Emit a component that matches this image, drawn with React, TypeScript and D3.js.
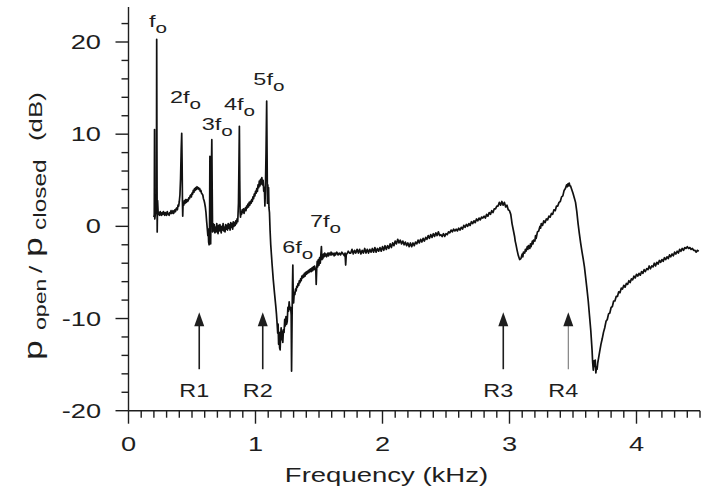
import React from "react";
import * as d3 from "d3";

// ---- data (kHz, dB) ----
const segHarmonics: [number, number][] = [
  [0.200,1.0],[0.203,1.3],[0.205,10.5],[0.207,0.8],[0.212,1.4],[0.217,1.8],[0.220,3.0],[0.222,20.3],[0.224,8.0],[0.226,-0.6],[0.229,2.8],[0.233,1.6],[0.237,1.3],
  [0.24,1.5],[0.245,1.2],[0.25,1.6],[0.255,1.3],[0.26,1.2],[0.265,1.5],[0.27,1.3],[0.275,1.6],[0.28,1.4],[0.285,1.2],[0.29,1.5],[0.295,1.3],[0.30,1.2],[0.305,1.6],
  [0.31,1.4],[0.315,1.3],[0.32,1.2],[0.325,1.5],[0.33,1.4],[0.335,1.7],[0.34,1.4],[0.345,1.5],[0.35,1.7],[0.355,1.4],[0.36,1.6],[0.365,1.8],[0.37,1.6],[0.375,1.9],
  [0.38,2.0],[0.385,1.8],[0.39,2.3],[0.395,2.2],[0.40,2.7],[0.405,3.4],[0.41,5.2],[0.415,8.3],[0.419,10.1],[0.422,7.0],[0.425,2.5],[0.427,1.1],[0.43,2.6],[0.435,2.3],
  [0.44,2.8],[0.445,2.5],[0.45,2.9],[0.455,2.6],[0.46,2.9],[0.465,2.7],[0.47,2.8],[0.475,3.1],[0.48,3.0],[0.485,3.3],[0.49,3.4],[0.495,3.2],[0.50,3.6],[0.505,3.5],
  [0.51,3.9],[0.515,3.7],[0.52,4.1],[0.525,3.9],[0.53,4.2],[0.535,4.0],[0.54,4.3],[0.545,4.1],[0.55,4.2],[0.555,4.0],[0.56,4.1],[0.565,3.8],[0.57,3.9],[0.575,3.6],
  [0.58,3.5],[0.585,3.4],[0.59,3.0],[0.595,2.8],[0.60,2.5],[0.605,2.1],[0.61,1.5],[0.615,0.6],[0.62,-0.2],[0.625,-1.0],[0.628,-0.3],[0.631,-1.7],[0.635,-2.0],
  [0.638,-0.5],[0.641,7.6],[0.644,2.0],[0.647,-1.9],[0.651,4.5],[0.656,9.4],[0.659,4.0],[0.662,-0.6],[0.666,0.3],[0.67,-0.5],[0.675,0.2],[0.68,-0.7],[0.685,-0.1],
  [0.69,-0.6],[0.695,0.3],[0.70,-0.4],[0.705,-0.8],[0.71,0.1],[0.715,-0.5],[0.72,0.2],[0.725,-0.3],[0.73,-0.7],[0.735,0.0],[0.74,-0.4],[0.745,0.3],[0.75,-0.5],
  [0.755,-0.1],[0.76,-0.6],[0.765,0.2],[0.77,-0.3],[0.775,0.1],[0.78,-0.4],[0.785,0.3],[0.79,-0.2],[0.795,0.2],[0.80,-0.4],[0.805,0.4],[0.81,-0.1],[0.815,0.3],
  [0.82,-0.3],[0.825,0.5],[0.83,0.0],[0.835,0.4],[0.84,0.1],[0.845,0.6],[0.85,0.3],[0.855,0.8],[0.86,0.5],[0.866,2.5],[0.870,7.0],[0.873,10.85],[0.876,5.0],
  [0.879,1.5],[0.882,1.0],[0.885,1.6],[0.89,1.3],[0.895,1.8],[0.90,1.5],[0.905,1.9],[0.91,1.4],[0.915,1.8],[0.92,2.0],[0.925,1.7],[0.93,2.2],[0.935,2.0],[0.94,2.4],
  [0.945,2.1],[0.95,2.6],[0.955,2.3],[0.96,2.7],[0.965,2.5],[0.97,2.9],[0.975,2.7],[0.98,3.2],[0.985,3.0],[0.99,3.5],[0.995,3.3],[1.00,3.8],[1.005,3.6],[1.01,4.1],
  [1.015,3.8],[1.02,4.5],[1.025,4.2],[1.03,4.9],[1.035,4.4],[1.04,5.1],[1.045,4.6],[1.05,5.3],[1.055,4.5],[1.06,5.0],[1.065,3.8],[1.07,4.2],[1.074,2.2],[1.078,4.0],
  [1.083,8.0],[1.088,13.6],[1.091,8.0],[1.094,2.5],[1.097,4.5],[1.10,3.0],[1.103,4.2],[1.106,2.0],[1.11,1.5],
];

const segDip: [number, number][] = [
  [1.115,-0.5],[1.12,-2.0],[1.13,-4.0],[1.14,-5.8],[1.15,-7.3],[1.16,-8.7],[1.165,-9.5],[1.17,-10.5],[1.175,-11.6],[1.178,-10.6],[1.182,-12.8],[1.186,-11.5],
  [1.19,-13.2],[1.194,-13.4],[1.198,-11.8],[1.202,-11.0],[1.206,-12.3],[1.21,-11.4],[1.215,-12.6],[1.22,-11.2],[1.225,-11.5],[1.23,-10.1],[1.235,-10.8],[1.24,-9.8],
  [1.245,-10.6],[1.25,-10.3],[1.255,-8.8],[1.26,-9.2],[1.265,-8.2],[1.27,-9.0],[1.277,-8.8],[1.281,-9.6],[1.284,-15.7],[1.288,-10.0],[1.291,-6.5],[1.294,-4.2],
  [1.297,-7.5],[1.30,-8.3],[1.305,-7.2],[1.31,-7.4],[1.315,-6.8],[1.32,-7.0],[1.325,-6.5],[1.33,-6.6],[1.335,-6.2],[1.34,-6.4],[1.345,-5.9],[1.35,-6.1],[1.355,-5.7],
  [1.36,-5.9],[1.365,-5.4],[1.37,-5.6],[1.375,-5.3],[1.38,-5.5],[1.385,-5.1],[1.39,-5.4],[1.395,-5.0],[1.40,-5.2],[1.405,-4.9],[1.41,-5.1],[1.415,-4.8],[1.42,-5.0],
  [1.425,-4.7],[1.43,-4.9],[1.435,-4.6],[1.44,-4.9],[1.445,-4.5],[1.45,-4.8],[1.455,-4.4],[1.46,-4.7],[1.465,-4.3],[1.47,-4.6],[1.475,-4.8],[1.478,-6.3],[1.482,-4.6],
  [1.486,-3.8],[1.49,-4.4],[1.495,-3.6],[1.50,-4.2],[1.505,-3.4],[1.51,-4.0],[1.515,-3.0],[1.519,-2.2],[1.523,-3.6],[1.527,-3.2],[1.53,-3.5],[1.535,-3.0],[1.54,-3.3],
  [1.545,-2.9],[1.55,-3.2],[1.555,-3.0],[1.56,-3.3],[1.57,-2.9],[1.575,-3.2],[1.58,-2.9],[1.59,-3.1],[1.595,-2.8],[1.60,-3.1],[1.61,-2.9],[1.62,-3.2],[1.625,-2.9],
  [1.63,-3.1],[1.64,-2.8],[1.65,-3.1],[1.66,-2.9],[1.67,-3.1],[1.68,-2.8],[1.69,-3.0],[1.70,-3.2],[1.705,-2.9],[1.71,-4.2],[1.715,-3.0],[1.72,-3.0],[1.73,-2.7],[1.74,-2.9],
];

const segRise: [number, number][] = [
  [1.75,-2.9],[1.76,-2.5],[1.77,-3.0],[1.78,-2.6],[1.79,-2.9],[1.80,-2.5],[1.81,-2.9],[1.82,-2.5],[1.83,-3.0],[1.84,-2.6],[1.85,-2.9],[1.86,-2.4],[1.87,-2.9],
  [1.88,-2.5],[1.89,-2.9],[1.90,-2.5],[1.91,-2.8],[1.92,-2.4],[1.93,-2.8],[1.94,-2.3],[1.95,-2.8],[1.96,-2.4],[1.97,-2.7],[1.98,-2.3],[1.99,-2.7],[2.00,-2.2],
  [2.01,-2.6],[2.02,-2.1],[2.03,-2.5],[2.04,-2.1],[2.05,-2.4],[2.06,-1.9],[2.07,-2.3],[2.08,-1.8],[2.09,-2.1],[2.10,-1.6],[2.11,-1.9],[2.12,-1.4],[2.13,-1.8],
  [2.14,-1.5],[2.15,-1.9],[2.16,-1.6],[2.17,-2.0],[2.18,-1.7],[2.19,-2.1],[2.20,-1.8],[2.21,-2.2],[2.22,-1.8],[2.23,-2.2],[2.24,-1.8],[2.25,-2.1],[2.26,-1.7],
  [2.27,-1.9],[2.28,-1.5],[2.29,-1.8],[2.30,-1.4],[2.31,-1.7],[2.32,-1.3],[2.33,-1.6],[2.34,-1.2],[2.35,-1.4],[2.36,-1.0],[2.37,-1.3],[2.38,-0.9],[2.39,-1.2],
  [2.40,-0.8],[2.41,-1.1],[2.42,-0.7],[2.43,-1.0],[2.44,-0.6],[2.45,-1.0],[2.46,-0.9],[2.47,-1.1],[2.48,-0.8],[2.49,-1.1],[2.50,-0.8],[2.51,-0.9],[2.52,-0.6],
  [2.53,-0.7],[2.54,-0.4],[2.55,-0.6],[2.56,-0.3],[2.57,-0.5],[2.58,-0.3],[2.59,-0.5],[2.60,-0.2],[2.61,-0.4],[2.62,-0.1],[2.63,-0.3],[2.64,0.1],[2.65,-0.1],
  [2.66,0.2],[2.67,0.0],[2.68,0.3],[2.69,0.1],[2.70,0.5],[2.71,0.3],[2.72,0.6],[2.73,0.4],[2.74,0.8],[2.75,0.6],[2.76,0.9],[2.77,0.7],[2.78,1.0],[2.79,0.9],
  [2.80,1.1],[2.81,0.9],[2.82,1.3],[2.83,1.1],[2.84,1.5],[2.85,1.3],[2.86,1.7],[2.87,1.5],[2.88,1.9],[2.89,1.9],[2.90,2.2],[2.91,2.2],[2.92,2.6],[2.93,2.3],
  [2.94,2.7],[2.95,2.3],[2.96,2.6],[2.97,2.1],[2.98,2.3],[2.99,1.8],[3.00,1.7],[3.01,1.3],[3.015,0.8],[3.02,0.3],[3.03,-0.4],[3.04,-1.1],[3.045,-1.6],[3.05,-1.9],
  [3.06,-2.6],[3.07,-3.2],[3.08,-3.6],[3.09,-3.5],[3.10,-3.0],[3.105,-3.3],[3.11,-2.8],[3.12,-2.9],[3.125,-2.5],[3.13,-2.7],[3.14,-2.2],[3.145,-2.5],[3.15,-2.1],
  [3.16,-2.4],[3.165,-1.9],[3.17,-2.2],[3.18,-1.6],[3.185,-1.9],[3.19,-1.5],[3.20,-1.6],[3.205,-1.0],[3.21,-1.3],[3.22,-0.6],[3.23,-0.5],[3.24,0.0],[3.245,-0.2],
  [3.25,0.3],[3.26,0.1],[3.27,0.6],[3.28,0.4],[3.29,0.8],[3.30,0.7],[3.31,1.1],[3.32,1.0],[3.33,1.4],[3.34,1.3],[3.35,1.8],[3.36,1.7],[3.37,2.2],[3.38,2.2],
  [3.39,2.6],[3.40,2.7],[3.41,3.2],[3.42,3.3],[3.43,3.9],[3.44,4.1],[3.45,4.5],[3.455,4.3],[3.46,4.6],[3.465,4.4],[3.47,4.7],[3.475,4.4],[3.48,4.4],[3.49,4.0],
  [3.50,3.6],[3.51,3.1],[3.52,2.6],[3.53,1.6],[3.54,0.3],[3.55,-0.8],[3.56,-1.8],[3.57,-2.7],[3.58,-3.5],[3.59,-4.4],[3.60,-5.6],[3.61,-6.8],[3.62,-8.1],
  [3.63,-9.7],[3.64,-11.3],[3.65,-13.4],[3.655,-14.8],[3.66,-15.6],[3.665,-14.6],[3.67,-15.2],[3.675,-14.5],[3.68,-15.9],[3.685,-15.3],[3.69,-15.5],[3.695,-14.8],
  [3.70,-14.4],[3.71,-13.6],[3.72,-12.8],[3.73,-12.2],[3.74,-11.5],[3.75,-11.0],[3.76,-10.3],[3.77,-10.1],[3.78,-9.5],[3.79,-9.4],[3.80,-8.8],[3.81,-8.7],
  [3.82,-8.1],[3.83,-8.1],[3.84,-7.6],[3.85,-7.6],[3.86,-7.1],[3.87,-7.2],[3.88,-6.7],[3.89,-6.8],[3.90,-6.4],[3.91,-6.6],[3.92,-6.2],[3.93,-6.3],[3.94,-5.9],
  [3.95,-6.1],[3.96,-5.7],[3.97,-5.8],[3.98,-5.4],[3.99,-5.6],[4.00,-5.2],[4.01,-5.4],[4.02,-5.1],[4.03,-5.3],[4.04,-4.9],[4.05,-5.1],[4.06,-4.7],[4.07,-4.9],
  [4.08,-4.6],[4.09,-4.7],[4.10,-4.3],[4.11,-4.6],[4.12,-4.3],[4.13,-4.4],[4.14,-4.0],[4.15,-4.3],[4.16,-3.9],[4.17,-4.1],[4.18,-3.7],[4.19,-3.9],[4.20,-3.6],
  [4.21,-3.8],[4.22,-3.4],[4.23,-3.6],[4.24,-3.3],[4.25,-3.5],[4.26,-3.1],[4.27,-3.3],[4.28,-3.0],[4.29,-3.2],[4.30,-2.8],[4.31,-3.0],[4.32,-2.7],[4.33,-2.9],
  [4.34,-2.5],[4.35,-2.7],[4.36,-2.4],[4.37,-2.6],[4.38,-2.3],[4.39,-2.4],[4.40,-2.2],[4.41,-2.4],[4.42,-2.3],[4.43,-2.5],[4.44,-2.4],[4.45,-2.6],[4.46,-2.6],
  [4.47,-2.8],[4.48,-2.6],[4.49,-2.7],
];

const xTicksMajor = [0, 1, 2, 3, 4];
const yTicksMajor = [-20, -10, 0, 10, 20];

const harmonicPrefix = ["", "2", "3", "4", "5", "6", "7"];
const harmonicLabelKHz = [0.161, 0.327, 0.576, 0.752, 0.983, 1.211, 1.429];
const harmonicLabelDb = [21.66, 13.42, 10.41, 12.66, 15.37, -2.85, -0.03];

const resonanceNames = ["R1", "R2", "R3", "R4"];
const resonanceKHz = [0.557, 1.057, 2.951, 3.463];
const arrowTipDb = -9.33;
const arrowBaseDb = -15.5;
const resonanceLabelDb = -18.5;

const FONT = "'Liberation Sans', Arial, Helvetica, sans-serif";
const INK = "#1e1e1e";
const SX = 1.36;

export default function App() {
  const W = 709, H = 491;
  const x = d3.scaleLinear().domain([0, 4.5]).range([128.5, 700]);
  const y = d3.scaleLinear().domain([-20, 20]).range([410.7, 42]);
  const data = [...segHarmonics, ...segDip, ...segRise];
  const line = d3.line<[number, number]>().x((d) => x(d[0])).y((d) => y(d[1]));

  const xMinor = d3.range(0, 4.5001, 0.1);
  const yMinor = d3.range(-20, 23, 2);

  const T = (p: { x: number; y: number; size: number; anchor?: string; rot?: number; sx?: number; children: React.ReactNode; fill?: string }) => (
    <text
      transform={`translate(${p.x},${p.y}) rotate(${p.rot || 0}) scale(${p.sx ?? SX},1)`}
      fontSize={p.size}
      textAnchor={p.anchor || "start"}
      fontFamily={FONT}
      fill={p.fill || INK}
    >
      {p.children}
    </text>
  );

  const x0 = x(0), yBase = y(-20);

  return (
    <svg width={W} height={H} style={{ position: "absolute", left: 0, top: 0, background: "#fff" }}>
      {/* axes */}
      <g stroke={INK} strokeWidth={1.4} fill="none">
        <line x1={x0} x2={x0} y1={yBase} y2={y(23.8)} />
        <line x1={x0} x2={x(4.5)} y1={yBase} y2={yBase} />
        {yMinor.map((v) => (
          <line key={"ym" + v} x1={x0 - (v % 10 === 0 ? 13 : 7)} x2={x0} y1={y(v)} y2={y(v)} />
        ))}
        {xMinor.map((v) => {
          const major = Math.abs(v - Math.round(v)) < 1e-6;
          return <line key={"xm" + v.toFixed(1)} x1={x(v)} x2={x(v)} y1={yBase} y2={yBase + (major ? 13 : 7)} />;
        })}
      </g>

      {yTicksMajor.map((v) => (
        <T key={"yl" + v} x={101} y={y(v) + 7} size={20} anchor="end">{String(v)}</T>
      ))}
      {xTicksMajor.map((v) => (
        <T key={"xl" + v} x={x(v)} y={451} size={20} anchor="middle">{String(v)}</T>
      ))}

      <T x={386.5} y={482} size={21} anchor="middle" sx={1.31}>Frequency (kHz)</T>

      {/* y axis title (rotated), pieces placed along the text direction */}
      <T x={42} y={360} size={26} rot={-90}>p</T>
      <T x={46} y={330} size={17} rot={-90}>open</T>
      <T x={42} y={273} size={19} rot={-90}>/</T>
      <T x={42} y={257} size={26} rot={-90}>p</T>
      <T x={46} y={230} size={18} rot={-90}>closed</T>
      <T x={42} y={141} size={19} rot={-90}>(dB)</T>

      {/* spectrum */}
      <path d={line(data) || ""} fill="none" stroke="#111" strokeWidth={1.7} strokeLinejoin="round" />

      {/* harmonic labels */}
      {harmonicPrefix.map((p, i) => (
        <text
          key={"h" + i}
          transform={`translate(${x(harmonicLabelKHz[i])},${y(harmonicLabelDb[i])}) scale(1.38,1)`}
          fontSize={17}
          fontFamily={FONT}
          fill={INK}
        >
          {p}f
          <tspan dy={6} fontSize={15}>o</tspan>
        </text>
      ))}

      {/* resonance arrows */}
      {resonanceNames.map((r, i) => {
        const ax = x(resonanceKHz[i]);
        const tip = y(arrowTipDb);
        const base = y(arrowBaseDb);
        const light = i === 3;
        return (
          <g key={r}>
            <line x1={ax} x2={ax} y1={base} y2={tip + 12} stroke={light ? "#777" : INK} strokeWidth={light ? 1.1 : 1.6} />
            <path d={`M${ax},${tip} L${ax - 5},${tip + 14} L${ax + 5},${tip + 14} Z`} fill={INK} />
            <T x={ax - 5} y={y(resonanceLabelDb)} size={18} anchor="middle" sx={1.3}>{r}</T>
          </g>
        );
      })}
    </svg>
  );
}
